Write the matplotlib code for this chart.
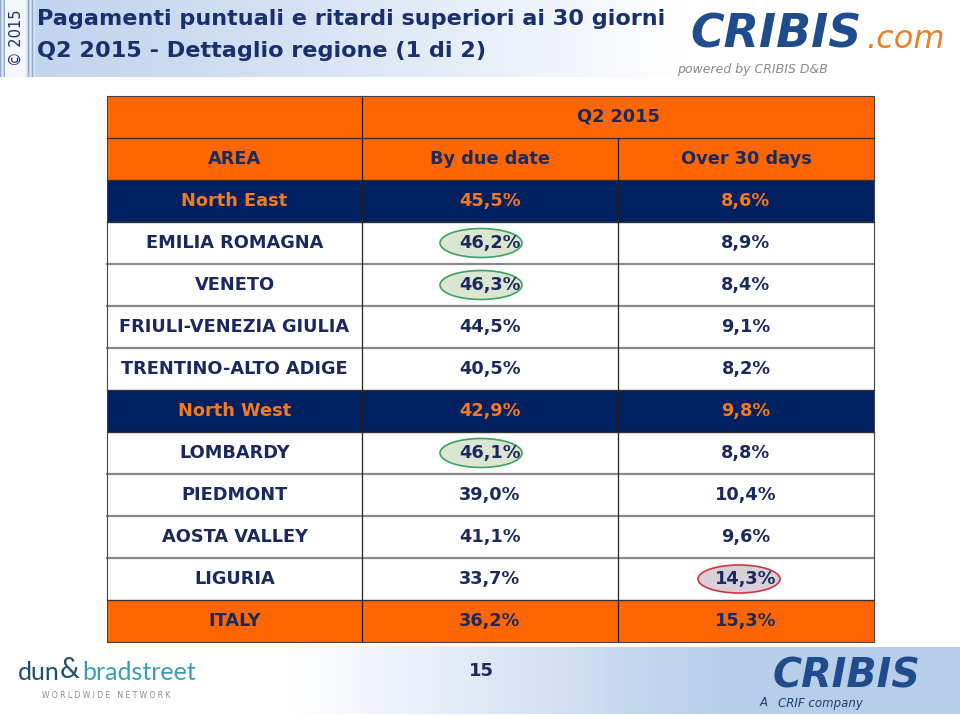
import numpy as np
import matplotlib
matplotlib.use("Agg")
import matplotlib.pyplot as plt
from matplotlib.patches import Rectangle, Ellipse

# ---------------- data ----------------
title_line1 = "Pagamenti puntuali e ritardi superiori ai 30 giorni"
title_line2 = "Q2 2015 - Dettaglio regione (1 di 2)"
period_label = "Q2 2015"
col_headers = ["AREA", "By due date", "Over 30 days"]
areas = ["North East", "EMILIA ROMAGNA", "VENETO", "FRIULI-VENEZIA GIULIA",
         "TRENTINO-ALTO ADIGE", "North West", "LOMBARDY", "PIEDMONT",
         "AOSTA VALLEY", "LIGURIA", "ITALY"]
by_due_date = ["45,5%", "46,2%", "46,3%", "44,5%", "40,5%", "42,9%",
               "46,1%", "39,0%", "41,1%", "33,7%", "36,2%"]
over_30_days = ["8,6%", "8,9%", "8,4%", "9,1%", "8,2%", "9,8%",
                "8,8%", "10,4%", "9,6%", "14,3%", "15,3%"]
row_kind = ["macro", "region", "region", "region", "region", "macro",
            "region", "region", "region", "region", "total"]
highlight_green = ["EMILIA ROMAGNA", "VENETO", "LOMBARDY"]   # by due date
highlight_red = ["LIGURIA"]                                # over 30 days
page_number = "15"

# ---------------- style ----------------
ORANGE = "#FF6600"
NAVY_BG = "#002060"
NAVY_TXT = "#1B2A5E"
TITLE_C = "#163070"
W, H = 960, 716

fig = plt.figure(figsize=(9.6, 7.16), dpi=100)
ax = fig.add_axes([0, 0, 1, 1])
ax.set_xlim(0, W)
ax.set_ylim(H, 0)
ax.axis("off")

# top band gradient
grad = np.linspace(0, 1, 256)
c0 = np.array([0.76, 0.83, 0.93]); c1 = np.array([1.0, 1.0, 1.0])
band = np.clip(grad / 0.95, 0, 1) ** 1.3
img = c0 + (c1 - c0) * band[None, :, None]
ax.imshow(np.repeat(img, 2, axis=0), extent=[0, 720, 77, 0], aspect="auto", zorder=0)
# stripes on left
for i, x in enumerate(np.arange(0, 36, 2.0)):
    ax.add_patch(Rectangle((x, 0), 1.0, 77, color="#8FA8D0" if i % 2 == 0 else "#DDE6F3", lw=0, zorder=1))
ax.add_patch(Rectangle((5, 0), 21, 77, color="#F4F7FC", lw=0, zorder=1.5))
ax.text(16, 38, "© 2015", rotation=90, ha="center", va="center", fontsize=10.5,
        color=TITLE_C, family="DejaVu Sans", zorder=2)

ax.text(37, 19, title_line1, fontsize=16.1, fontweight="bold", color=TITLE_C,
        va="center", ha="left", family="DejaVu Sans", zorder=3)
ax.text(37, 51, title_line2, fontsize=16.1, fontweight="bold", color=TITLE_C,
        va="center", ha="left", family="DejaVu Sans", zorder=3)

# CRIBIS.com logo (top right)
ax.text(690, 35, "CRIBIS", fontsize=33, fontweight="bold", style="italic",
        color="#1E4C8C", va="center", ha="left", family="DejaVu Sans")
ax.text(866, 39, ".com", fontsize=23, style="italic", color="#E8822A",
        va="center", ha="left", family="DejaVu Sans")
ax.text(677, 69, "powered by CRIBIS D&B", fontsize=9, style="italic",
        color="#8A8A8A", va="center", ha="left", family="DejaVu Sans")

# bottom band gradient
band2 = np.clip((grad - 0.3) / 0.45, 0, 1)
c2 = np.array([0.72, 0.81, 0.92])
img2 = c1 + (c2 - c1) * band2[None, :, None]
ax.imshow(np.repeat(img2, 2, axis=0), extent=[0, W, 714, 647], aspect="auto", zorder=0)

ax.text(481, 671, page_number, fontsize=13, fontweight="bold", color=NAVY_TXT,
        ha="center", va="center", family="DejaVu Sans")

# dun & bradstreet logo
ax.text(18, 672, "dun", fontsize=18, color="#1F4F6E", ha="left", va="center", family="Lato")
ax.text(60, 670, "&", fontsize=20, color="#1F4F6E", ha="left", va="center", family="Lato")
ax.text(82, 672, "bradstreet", fontsize=18, color="#3C9DB6", ha="left", va="center", family="Lato")
ax.text(106, 695, "W O R L D W I D E   N E T W O R K", fontsize=5.5, color="#8A8A8A",
        ha="center", va="center", family="DejaVu Sans")

# CRIBIS logo (bottom right)
ax.text(773, 676, "CRIBIS", fontsize=28.5, fontweight="bold", style="italic",
        color="#1E4C8C", ha="left", va="center", family="DejaVu Sans")
ax.text(760, 703, "A ", fontsize=8.5, style="italic", color="#1E3C70",
        ha="left", va="center", family="DejaVu Sans")
ax.text(778, 703, "CRIF company", fontsize=8.5, style="italic", color="#1E3C70",
        ha="left", va="center", family="DejaVu Sans")

# ---------------- table ----------------
x_edges = [107, 362, 618, 874]
top = 96
rh = 42
col_centers = [(x_edges[i] + x_edges[i + 1]) / 2 for i in range(3)]

def row_y(i):
    return top + i * rh

tfs = 12.8
# header row 1
ax.add_patch(Rectangle((x_edges[0], row_y(0)), x_edges[3] - x_edges[0], rh,
                       facecolor=ORANGE, edgecolor="none", zorder=2))
ax.text((x_edges[1] + x_edges[3]) / 2, row_y(0) + rh / 2, period_label, fontsize=tfs,
        fontweight="bold", color=NAVY_TXT, ha="center", va="center", zorder=4)
# header row 2
ax.add_patch(Rectangle((x_edges[0], row_y(1)), x_edges[3] - x_edges[0], rh,
                       facecolor=ORANGE, edgecolor="none", zorder=2))
for j, h in enumerate(col_headers):
    ax.text(col_centers[j], row_y(1) + rh / 2, h, fontsize=tfs, fontweight="bold",
            color=NAVY_TXT, ha="center", va="center", zorder=4)

for k, (a, b, o, kind) in enumerate(zip(areas, by_due_date, over_30_days, row_kind)):
    y0 = row_y(k + 2)
    if kind == "macro":
        fc, tc = NAVY_BG, "#F47A20"
    elif kind == "total":
        fc, tc = ORANGE, NAVY_TXT
    else:
        fc, tc = "white", NAVY_TXT
    ax.add_patch(Rectangle((x_edges[0], y0), x_edges[3] - x_edges[0], rh,
                           facecolor=fc, edgecolor="none", zorder=2))
    if a in highlight_green:
        ax.add_patch(Ellipse((col_centers[1] - 9, y0 + rh / 2), 82, 29,
                             facecolor="#DCE5D2", edgecolor="#3BA55C", lw=1.2, zorder=3))
    if a in highlight_red:
        ax.add_patch(Ellipse((col_centers[2] - 7, y0 + rh / 2), 82, 28,
                             facecolor="#D8CFD8", edgecolor="#D0353F", lw=1.2, zorder=3))
    for j, t in enumerate([a, b, o]):
        ax.text(col_centers[j], y0 + rh / 2, t, fontsize=tfs, fontweight="bold",
                color=tc, ha="center", va="center", zorder=4)

# grid lines
n_rows = 2 + len(areas)
for i in range(1, n_rows):
    white_both = (i - 3 >= 0 and row_kind[i - 3] == "region" and i - 2 < len(row_kind)
                  and row_kind[i - 2] == "region")
    ax.plot([x_edges[0], x_edges[3]], [row_y(i), row_y(i)],
            color="#8A8A8A" if white_both else "#333333",
            lw=1.6 if white_both else 1.0, zorder=3.5)
bottom = row_y(n_rows)
ax.plot([x_edges[1], x_edges[1]], [top, bottom], color="#222222", lw=0.9, zorder=3.5)
ax.plot([x_edges[2], x_edges[2]], [row_y(1), bottom], color="#222222", lw=0.9, zorder=3.5)
ax.plot([x_edges[0], x_edges[3], x_edges[3], x_edges[0], x_edges[0]],
        [top, top, bottom, bottom, top], color="#444444", lw=0.8, zorder=3.5)

fig.savefig("out.png", dpi=100)
